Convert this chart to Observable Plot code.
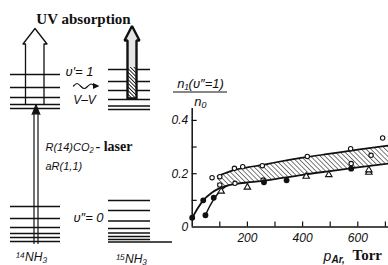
<!DOCTYPE html>
<html><head><meta charset="utf-8">
<script src="https://cdn.jsdelivr.net/npm/d3@7"></script>
<script src="https://cdn.jsdelivr.net/npm/@observablehq/plot@0.6"></script>
<style>
html,body{margin:0;padding:0;background:#fff;}
#fig{position:relative;width:388px;height:265px;overflow:hidden;background:#fff;}
#fig svg{position:absolute;left:0;top:0;}
</style></head><body><div id="fig"></div>
<script>
// ---------- chart data (Ar pressure, Torr  vs  n1/n0) ----------
const xTicks = [100, 200, 300, 400, 500, 600, 700];
const xTickLabels = [200, 400, 600];
const yTicks = [0.1, 0.2, 0.3, 0.4];
const yTickLabels = [0, 0.2, 0.4];

const upperT = [92, 100, 130, 160, 200, 250, 300, 400, 500, 600, 712];
const upperV = [0.19, 0.194, 0.206, 0.216, 0.224, 0.232, 0.242, 0.26, 0.275, 0.29, 0.306];
const bandLowV = [0.142, 0.146, 0.156, 0.162, 0.167, 0.172, 0.18, 0.196, 0.21, 0.224, 0.238];

const lowerT = [0, 20, 40, 70, 100, 130, 160, 200, 250, 300, 400, 500, 600, 712];
const lowerV = [0.033, 0.07, 0.1, 0.128, 0.146, 0.156, 0.162, 0.167, 0.172, 0.18, 0.196, 0.21, 0.224, 0.238];

const secondT = [48, 62, 78, 95, 112, 130];
const secondV = [0.044, 0.075, 0.104, 0.128, 0.145, 0.156];

const openT = [72, 100, 153, 183, 254, 417, 574, 648, 690, 100, 155, 257, 576];
const openV = [0.185, 0.189, 0.22, 0.226, 0.23, 0.265, 0.294, 0.269, 0.334, 0.158, 0.164, 0.176, 0.238];

const dotT = [0, 40, 48, 78, 260, 342, 576];
const dotV = [0.035, 0.1, 0.044, 0.11, 0.168, 0.175, 0.219];

const triT = [105, 200, 413, 495, 640, 640];
const triV = [0.134, 0.149, 0.19, 0.196, 0.205, 0.214];

// ---------- level diagram data (schematic units) ----------
const levels14Upper = [74, 87, 97, 104, 108];
const levels14Lower = [206, 218, 227, 233, 237, 241];
const levels15Upper = [69, 81, 90, 99, 105.5, 109];
const levels15Lower = [200, 210, 220.5, 228, 232.5, 236, 239];
const baseLevel = [241.5];
const span14 = [10, 60];
const span15 = [108, 150];
const spanBase = [108, 172];

const uvArrowX = [25, 25, 22.5, 34.5, 46.5, 43.5, 43.5];
const uvArrowY = [104, 43.5, 43.5, 28, 43.5, 43.5, 104];
const arrow15X = [127, 127, 124, 131.5, 139, 136, 136, 127];
const arrow15Y = [98, 40, 40, 25.5, 40, 40, 98, 98];
const arrow15Dark = [67, 98];
const laserX = [33.5, 37.5];
const laserSpan = [113, 244];
const laserHeadX = [31.5, 35.5, 39.5];
const laserHeadY = [114, 104, 114];
const waveX = [73, 76.5, 80, 83.5, 87, 90.5, 94];
const waveY = [85.5, 83, 85.5, 88, 86, 83.5, 85.5];
const waveHeadX = [92.5, 99, 92.5];
const waveHeadY = [82.5, 85.5, 88.5];

const ink = "#111";
const sans = "'Liberation Sans', Arial, sans-serif";
const serif = "'Liberation Serif', 'Times New Roman', serif";
const idx = n => Array.from({length: n}, (_, i) => i);
const rows = (xs, ys) => xs.map((x, i) => ({x, y: ys[i]}));

// ---------- diagram ----------
const diag = Plot.plot({
  width: 388, height: 265, margin: 0,
  x: {domain: [0, 388], range: [0, 388], axis: null},
  y: {domain: [0, 265], range: [0, 265], axis: null},
  style: {background: "transparent", overflow: "visible"},
  marks: [
    Plot.ruleY(levels14Upper, {y: d => d, x1: span14[0], x2: span14[1], stroke: ink, strokeWidth: 1.3}),
    Plot.ruleY(levels14Lower, {y: d => d, x1: span14[0], x2: span14[1], stroke: ink, strokeWidth: 1.3}),
    Plot.ruleY(levels15Upper, {y: d => d, x1: span15[0], x2: span15[1], stroke: ink, strokeWidth: 1.3}),
    Plot.ruleY(levels15Lower, {y: d => d, x1: span15[0], x2: span15[1], stroke: ink, strokeWidth: 1.3}),
    Plot.ruleY(baseLevel, {y: d => d, x1: spanBase[0], x2: spanBase[1], stroke: ink, strokeWidth: 1.3}),
    // UV open arrow (14NH3)
    Plot.line(rows(uvArrowX, uvArrowY), {x: "x", y: "y", stroke: ink, strokeWidth: 1.3, fill: "none", curve: "linear"}),
    // laser double arrow
    Plot.ruleX(laserX, {x: d => d, y1: laserSpan[0], y2: laserSpan[1], stroke: ink, strokeWidth: 1.2}),
    Plot.line(rows(laserHeadX, laserHeadY), {x: "x", y: "y", fill: ink, stroke: ink, strokeWidth: 1}),
    // 15NH3 hatched arrow
    Plot.line(rows(arrow15X, arrow15Y), {x: "x", y: "y", fill: "#e4e4e4", stroke: "none"}),
    Plot.rect([0], {x1: arrow15X[0], x2: arrow15X[5], y1: arrow15Dark[0], y2: arrow15Dark[1], fill: "url(#hatchDark)"}),
    Plot.line(rows(arrow15X, arrow15Y), {x: "x", y: "y", fill: "none", stroke: ink, strokeWidth: 2.4, strokeLinejoin: "miter"}),
    // V-V wave
    Plot.line(rows(waveX, waveY), {x: "x", y: "y", curve: "natural", stroke: ink, strokeWidth: 1.2}),
    Plot.line(rows(waveHeadX, waveHeadY), {x: "x", y: "y", fill: ink, stroke: "none"}),
    // texts
    Plot.text(["UV absorption"], {x: 83, y: 19, fontFamily: serif, fontWeight: "bold", fontSize: 15, fill: ink}),
    Plot.text(["υ′= 1"], {x: 79, y: 71, fontFamily: sans, fontStyle: "italic", fontSize: 13, fill: ink}),
    Plot.text(["V–V"], {x: 84, y: 100, fontFamily: sans, fontStyle: "italic", fontSize: 12, fill: ink}),
    Plot.text(["R(14)CO₂"], {x: 45, y: 147, textAnchor: "start", fontFamily: sans, fontStyle: "italic", fontSize: 11, fill: ink}),
    Plot.text(["- laser"], {x: 95, y: 146, textAnchor: "start", fontFamily: serif, fontWeight: "bold", fontSize: 14, fill: ink}),
    Plot.text(["aR(1,1)"], {x: 45, y: 166, textAnchor: "start", fontFamily: sans, fontStyle: "italic", fontSize: 11, fill: ink}),
    Plot.text(["υ″= 0"], {x: 88, y: 217, fontFamily: sans, fontStyle: "italic", fontSize: 13, fill: ink}),
    Plot.text(["¹⁴NH₃"], {x: 31, y: 257, fontFamily: sans, fontStyle: "italic", fontSize: 12, fill: ink}),
    Plot.text(["¹⁵NH₃"], {x: 131, y: 259, fontFamily: sans, fontStyle: "italic", fontSize: 12, fill: ink})
  ]
});

// ---------- chart ----------
const x0 = 191.7, pxPerTorr = 0.276, y0 = 226.5, pxPerUnit = 266.5;
const titleStyle = {frameAnchor: "top-left", lineAnchor: "middle", fill: ink};
const chart = Plot.plot({
  width: 388, height: 265, margin: 0,
  x: {domain: [0, 700], range: [x0, x0 + 700 * pxPerTorr], axis: null},
  y: {domain: [0, 0.4], range: [y0, y0 - 0.4 * pxPerUnit], axis: null},
  style: {background: "transparent", overflow: "visible"},
  marks: [
    Plot.areaY(idx(upperT.length), {x: upperT, y1: bandLowV, y2: upperV, curve: "monotone-x", fill: "url(#hatch)"}),
    Plot.line(idx(upperT.length), {x: upperT, y: upperV, curve: "monotone-x", stroke: ink, strokeWidth: 1.7}),
    Plot.line(idx(lowerT.length), {x: lowerT, y: lowerV, curve: "monotone-x", stroke: ink, strokeWidth: 1.8}),
    Plot.line(idx(secondT.length), {x: secondT, y: secondV, curve: "monotone-x", stroke: ink, strokeWidth: 1.5}),
    // axes
    Plot.ruleY([0], {x1: 0, x2: 712, stroke: ink, strokeWidth: 1.5}),
    Plot.ruleX([0], {y1: 0, y2: 0.445, stroke: ink, strokeWidth: 1.5}),
    Plot.ruleX(xTicks, {x: d => d, y1: 0, y2: 0.019, stroke: ink, strokeWidth: 1.2}),
    Plot.ruleY(yTicks, {y: d => d, x1: 0, x2: 18, stroke: ink, strokeWidth: 1.2}),
    Plot.text(xTickLabels, {x: d => d, y: 0, dy: 11, text: d => String(d), fontFamily: sans, fontStyle: "italic", fontSize: 12, fill: ink}),
    Plot.text(yTickLabels, {x: 0, y: d => d, text: d => d === 0 ? "0" : d.toFixed(1), textAnchor: "end", dx: -4, fontFamily: sans, fontStyle: "italic", fontSize: 12, fill: ink}),
    // data points
    Plot.dot(idx(openT.length), {x: openT, y: openV, r: 2.2, fill: "white", stroke: ink, strokeWidth: 1.1}),
    Plot.dot(idx(dotT.length), {x: dotT, y: dotV, r: 2.2, fill: ink, stroke: ink}),
    Plot.dot(idx(triT.length), {x: triT, y: triV, r: 2.4, symbol: "triangle", fill: "white", stroke: ink, strokeWidth: 1.1}),
    // axis titles
    Plot.text(["n₁(υ″=1)"], {...titleStyle, textAnchor: "middle", dx: 200, dy: 83, fontFamily: sans, fontStyle: "italic", fontSize: 13}),
    Plot.text(["n₀"], {...titleStyle, textAnchor: "middle", dx: 200, dy: 101, fontFamily: sans, fontStyle: "italic", fontSize: 13}),
    Plot.text(["p"], {...titleStyle, textAnchor: "start", dx: 323, dy: 256, fontFamily: sans, fontStyle: "italic", fontSize: 14}),
    Plot.text(["Ar,"], {...titleStyle, textAnchor: "start", dx: 331, dy: 259, fontFamily: sans, fontStyle: "italic", fontWeight: "bold", fontSize: 10}),
    Plot.text(["Torr"], {...titleStyle, textAnchor: "start", dx: 352, dy: 255, fontFamily: serif, fontWeight: "bold", fontSize: 15})
  ]
});

const fig = document.getElementById("fig");
fig.appendChild(diag);
fig.appendChild(chart);

const ns = "http://www.w3.org/2000/svg";
const d1 = document.createElementNS(ns, "defs");
d1.innerHTML = '<pattern id="hatchDark" patternUnits="userSpaceOnUse" width="2.6" height="2.6" patternTransform="rotate(-45)"><rect width="2.6" height="2.6" fill="#fff"/><line x1="0" y1="0" x2="0" y2="2.6" stroke="#111" stroke-width="1.8"/></pattern>';
diag.insertBefore(d1, diag.firstChild);
const d2 = document.createElementNS(ns, "defs");
d2.innerHTML = '<pattern id="hatch" patternUnits="userSpaceOnUse" width="3.4" height="3.4" patternTransform="rotate(-45)"><line x1="0" y1="0" x2="0" y2="3.4" stroke="#111" stroke-width="1.1"/></pattern>';
chart.insertBefore(d2, chart.firstChild);
// fraction bar of the y title
const bar = document.createElementNS(ns, "line");
bar.setAttribute("x1", 173); bar.setAttribute("x2", 227);
bar.setAttribute("y1", 92); bar.setAttribute("y2", 92);
bar.setAttribute("stroke", ink); bar.setAttribute("stroke-width", 1.2);
chart.appendChild(bar);
</script></body></html>
